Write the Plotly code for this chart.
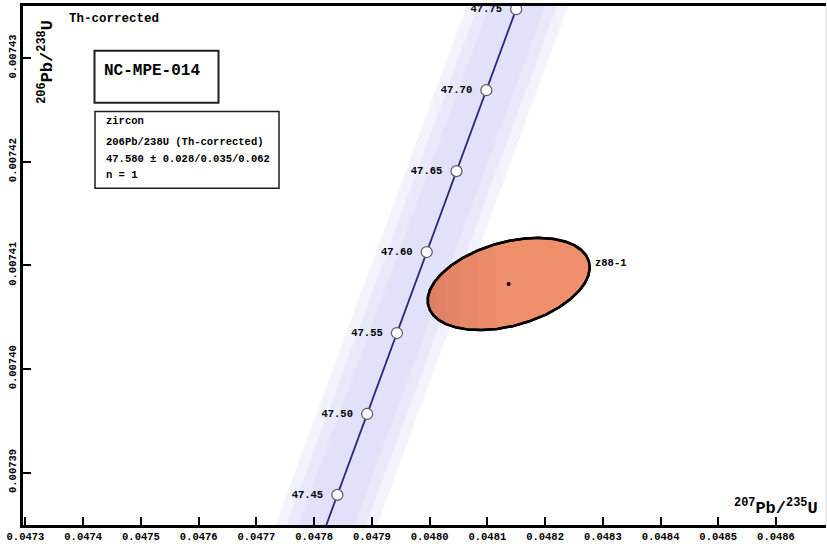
import numpy as np
import plotly.graph_objects as go

# ---------------- data ----------------
# Concordia ages (Ma) and ratios
ages = [47.40, 47.45, 47.50, 47.55, 47.60, 47.65, 47.70, 47.75, 47.80]
conc_x = [0.0477886, 0.0478402, 0.0478918, 0.0479434, 0.0479950,
          0.0480466, 0.0480983, 0.0481499, 0.0482015]   # 207Pb/235U
conc_y = [0.00738002, 0.00738784, 0.00739565, 0.00740346, 0.00741128,
          0.00741909, 0.00742690, 0.00743472, 0.00744253]  # 206Pb/238U
age_labels = ["", "47.45", "47.50", "47.55", "47.60", "47.65", "47.70", "47.75", ""]
band_halfwidth = 0.000088          # decay-constant envelope half width (207/235 units)

# Analysis ellipse z88-1
ell_name = "z88-1"
ell_cx = 0.048137
ell_cy = 0.0074082
ell_sx = 0.0001403
ell_sy = 0.00000445
ell_rho = 0.36

# Axis ranges / ticks
x_range = [0.0472957, 0.0486866]
y_range = [0.007384933, 0.007435029]
x_tick0, x_dtick = 0.0473, 0.0001
y_tick0, y_dtick = 0.00739, 0.00001

FONT = "Liberation Mono"

# ---------------- figure ----------------
fig = go.Figure()

cx = np.array(conc_x)
cy = np.array(conc_y)

# envelope band (soft layered edges)
for frac in [1.0, 0.78, 0.55]:
    hw = band_halfwidth * frac
    bx = np.concatenate([cx - hw, (cx + hw)[::-1]])
    by = np.concatenate([cy, cy[::-1]])
    fig.add_trace(go.Scatter(x=bx, y=by, fill="toself",
                             fillcolor="rgba(195,195,245,0.2)",
                             line=dict(width=0), mode="lines",
                             hoverinfo="skip", showlegend=False))

# concordia line
fig.add_trace(go.Scatter(x=conc_x, y=conc_y, mode="lines",
                         line=dict(color="rgb(40,40,125)", width=1.8),
                         showlegend=False, hoverinfo="skip"))

# ellipse
t = np.linspace(0, 2 * np.pi, 400)
ex = ell_cx + ell_sx * np.cos(t)
ey = ell_cy + ell_sy * (ell_rho * np.cos(t) + np.sqrt(1 - ell_rho ** 2) * np.sin(t))
fig.add_trace(go.Scatter(x=ex, y=ey, mode="lines", fill="toself",
                         fillcolor="rgb(239,143,108)",
                         line=dict(color="black", width=2.5),
                         showlegend=False, hoverinfo="skip"))
# soft darker shading towards the left of the ellipse
for thr in [-0.15, -0.4, -0.6, -0.78, -0.9]:
    m = np.cos(t) < thr
    fig.add_trace(go.Scatter(x=ex[m], y=ey[m], mode="lines", fill="toself",
                             fillcolor="rgba(170,80,60,0.045)",
                             line=dict(width=0),
                             showlegend=False, hoverinfo="skip"))
fig.add_trace(go.Scatter(x=ex, y=ey, mode="lines",
                         line=dict(color="black", width=2.5),
                         showlegend=False, hoverinfo="skip"))
fig.add_trace(go.Scatter(x=[ell_cx], y=[ell_cy], mode="markers",
                         marker=dict(color="black", size=4),
                         showlegend=False, hoverinfo="skip"))

# age markers
fig.add_trace(go.Scatter(x=conc_x[1:-1], y=conc_y[1:-1], mode="markers+text",
                         text=[s + " " for s in age_labels[1:-1]],
                         textposition="middle left",
                         textfont=dict(family=FONT, size=10.5, color="black", weight="bold"),
                         marker=dict(size=11, color="white",
                                     line=dict(color="rgb(90,90,90)", width=1.2)),
                         cliponaxis=True, showlegend=False, hoverinfo="skip"))

# ---------------- layout helpers ----------------
PX0, PX1, PY0, PY1 = 23, 826, 6, 527
W, H = PX1 - PX0, PY1 - PY0


def px(x):
    return (x - PX0) / W


def py(y):
    return (PY1 - y) / H


annotations = []


def txt(x, y, s, size=10.5, xanchor="left", angle=0):
    annotations.append(dict(x=px(x), y=py(y), xref="paper", yref="paper", text=s,
                            showarrow=False, xanchor=xanchor, yanchor="middle",
                            textangle=angle,
                            font=dict(family=FONT, size=size, color="black", weight="bold")))


txt(67, 19, "Th-corrected", size=12.5)
txt(102, 71, "NC-MPE-014", size=16)
txt(104, 121, "zircon")
txt(104, 143, "206Pb/238U (Th-corrected)")
txt(104, 160, "47.580 ± 0.028/0.035/0.062")
txt(104, 176, "n = 1")
# axis titles
txt(776, 509, "<sup>207</sup>Pb/<sup>235</sup>U", size=17, xanchor="center")
annotations.append(dict(x=px(46), y=py(62), xref="paper", yref="paper",
                        text="<sup>206</sup>Pb/<sup>238</sup>U", showarrow=False,
                        xanchor="center", yanchor="middle", textangle=-90,
                        font=dict(family=FONT, size=17, color="black", weight="bold")))
# ellipse label
annotations.append(dict(x=0.048283, y=0.0074102, xref="x", yref="y", text=ell_name,
                        showarrow=False, xanchor="left", yanchor="middle",
                        font=dict(family=FONT, size=10.5, color="black", weight="bold")))

shapes = [
    dict(type="rect", xref="paper", yref="paper", x0=px(94.5), x1=px(218.5),
         y0=py(103), y1=py(51), line=dict(color="rgb(30,30,30)", width=2)),
    dict(type="rect", xref="paper", yref="paper", x0=px(95), x1=px(279),
         y0=py(189), y1=py(112), line=dict(color="rgb(30,30,30)", width=1.5)),
    dict(type="line", xref="paper", yref="paper", x0=1, x1=1, y0=0, y1=1,
         line=dict(color="rgb(215,215,215)", width=1)),
]

tickfont = dict(family=FONT, size=10.5, color="black", weight="bold")

fig.update_layout(
    width=827, height=544,
    margin=dict(l=PX0, r=827 - PX1, t=PY0, b=544 - PY1, pad=0),
    paper_bgcolor="white", plot_bgcolor="white",
    showlegend=False,
    annotations=annotations,
    shapes=shapes,
    xaxis=dict(range=x_range, tick0=x_tick0, dtick=x_dtick, tickformat=".4f",
               showgrid=False, zeroline=False, showline=True, linecolor="black",
               linewidth=2.5, mirror=True, ticks="inside", ticklen=8, tickwidth=2,
               tickcolor="black", tickfont=tickfont),
    yaxis=dict(range=y_range, tick0=y_tick0, dtick=y_dtick, tickformat=".5f",
               showgrid=False, zeroline=False, showline=True, linecolor="black",
               linewidth=2.5, ticks="inside", ticklen=8, tickwidth=2,
               tickcolor="black", tickfont=tickfont, tickangle=-90),
)

fig.write_html("out.html")
